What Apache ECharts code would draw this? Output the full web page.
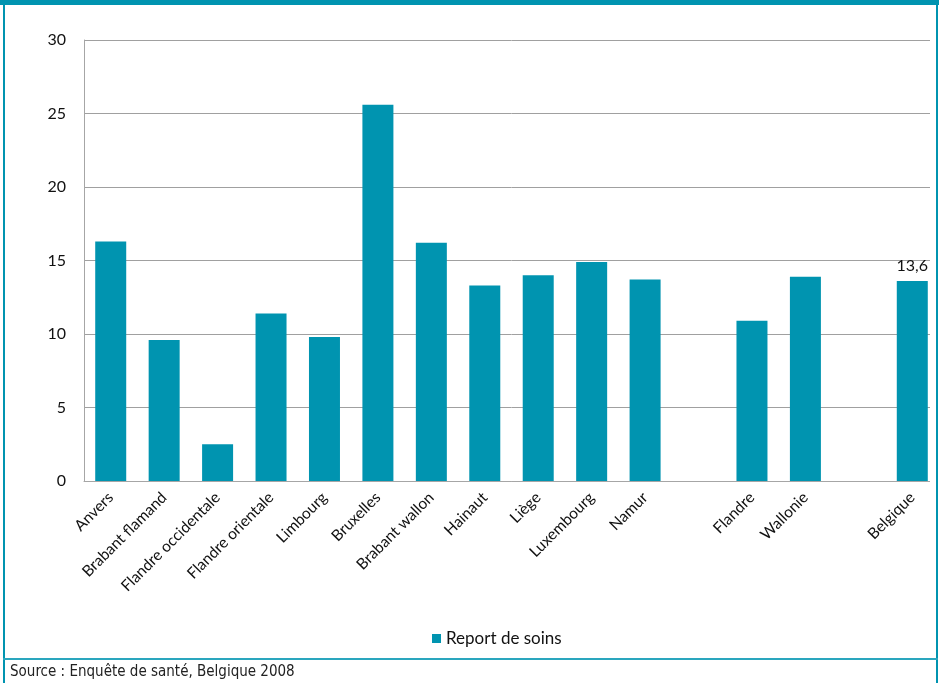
<!DOCTYPE html>
<html>
<head>
<meta charset="utf-8">
<script src="https://cdn.jsdelivr.net/npm/echarts@6/dist/echarts.min.js"></script>
<style>
  html, body { margin: 0; padding: 0; background: #fff; }
  #chart { width: 939px; height: 683px; }
</style>
</head>
<body>
<div id="chart"></div>
<script>
// categories (empty strings are the gaps between groups)
var categories = ['Anvers', 'Brabant flamand', 'Flandre occidentale', 'Flandre orientale', 'Limbourg',
    'Bruxelles', 'Brabant wallon', 'Hainaut', 'Liège', 'Luxembourg', 'Namur',
    '', 'Flandre', 'Wallonie', ' ', 'Belgique'];
var reportValues = [16.3, 9.6, 2.5, 11.4, 9.8, 25.6, 16.2, 13.3, 14.0, 14.9, 13.7,
    null, 10.9, 13.9, null, 13.6];
var seriesName = 'Report de soins';
var yTicks = [0, 5, 10, 15, 20, 25, 30];
var sourceText = 'Source : Enquête de santé, Belgique 2008';

var teal = '#0094B0';
var font = 'Lato, "Open Sans", sans-serif';

var chart = echarts.init(document.getElementById('chart'));

var barData = reportValues.map(function (v, i) {
    if (categories[i] === 'Belgique') {
        return {
            value: v,
            label: {
                show: true, position: 'top', distance: 7,
                formatter: function (p) { return String(p.value).replace('.', ','); },
                color: '#111', fontSize: 16, fontFamily: font
            }
        };
    }
    return v;
});

var option = {
    animation: false,
    grid: { left: 84, right: 0, top: 40, bottom: 202 },
    legend: {
        data: [seriesName],
        bottom: 31,
        left: 427,
        icon: 'rect',
        itemWidth: 9,
        itemHeight: 9,
        itemGap: 6,
        textStyle: { color: '#111', fontSize: 17, fontFamily: font }
    },
    xAxis: {
        type: 'category',
        data: categories,
        axisLine: { lineStyle: { color: '#a6a6a6', width: 1 } },
        axisTick: { show: false },
        axisLabel: {
            interval: 0, rotate: 45, margin: 14,
            color: '#111', fontSize: 15.5, fontFamily: font
        }
    },
    yAxis: {
        type: 'value',
        min: yTicks[0],
        max: yTicks[yTicks.length - 1],
        interval: 5,
        axisLine: { show: true, lineStyle: { color: '#a6a6a6' } },
        axisTick: { show: false },
        axisLabel: { color: '#111', fontSize: 16, fontFamily: font, margin: 18 },
        splitLine: { lineStyle: { color: '#a0a0a0', width: 1 } }
    },
    series: [{
        name: seriesName,
        type: 'bar',
        data: barData,
        barWidth: 31,
        itemStyle: { color: teal }
    }],
    graphic: [
        // gridlines stop at the last bar's right edge
        { type: 'rect', z: 100, shape: { x: 930, y: 30, width: 9, height: 460 }, style: { fill: '#fff' } },
        { type: 'rect', z: 101, shape: { x: 0, y: 0, width: 939, height: 5 }, style: { fill: teal } },
        { type: 'rect', z: 101, shape: { x: 3, y: 0, width: 2, height: 683 }, style: { fill: teal } },
        { type: 'rect', z: 101, shape: { x: 936, y: 0, width: 2, height: 683 }, style: { fill: teal } },
        { type: 'rect', z: 101, shape: { x: 3, y: 658, width: 935, height: 2 }, style: { fill: '#2aa6be' } },
        {
            type: 'text', left: 10, top: 665, z: 101,
            style: {
                text: sourceText, fill: '#222', fontSize: 15,
                fontFamily: '"Liberation Sans Narrow", "DejaVu Sans Condensed", sans-serif'
            }
        }
    ]
};

chart.setOption(option);
</script>
</body>
</html>
